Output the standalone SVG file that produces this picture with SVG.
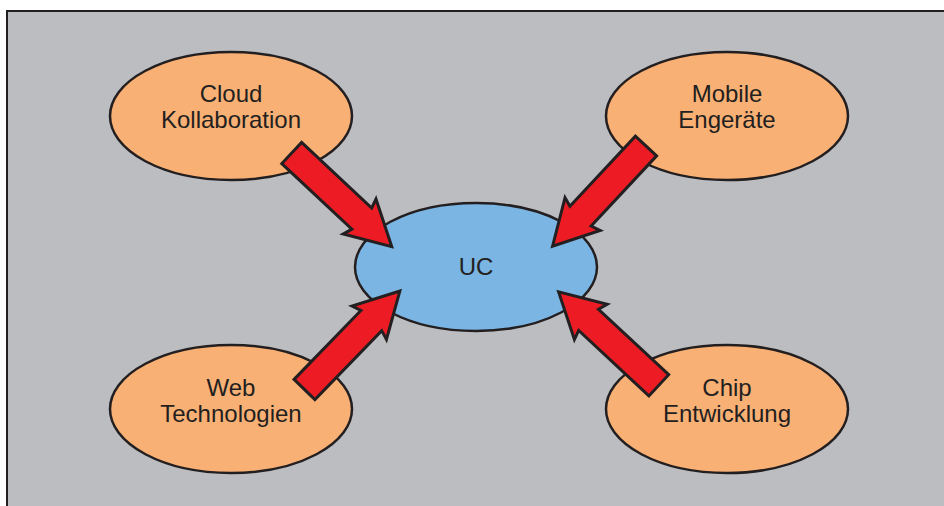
<svg xmlns="http://www.w3.org/2000/svg" width="944" height="506" viewBox="0 0 944 506">
<defs>
<style>
.node ellipse{stroke:#231f20;stroke-width:2.5}
.outer ellipse{fill:#f9b074}
.center ellipse{fill:#7ab5e3}
text{font-family:"Liberation Sans",Arial,sans-serif;font-size:24px;fill:#231f20;text-anchor:middle}
.arrow{fill:#ed1c24;stroke:#231f20;stroke-width:3;stroke-linejoin:miter}
</style>
<path id="arr" d="M0,-14.5 L96,-14.5 L93,-24 L137,0 L93,24 L96,14.5 L0,14.5 Z"/>
</defs>
<rect x="0" y="0" width="944" height="506" fill="#ffffff"/>
<rect x="7" y="11" width="960" height="520" fill="#bcbdc0" stroke="#231f20" stroke-width="2"/>
<g id="cloud" class="node outer">
<ellipse cx="231" cy="116" rx="121" ry="64"/>
<text x="231" y="102">Cloud</text>
<text x="231" y="128">Kollaboration</text>
</g>
<g id="mobile" class="node outer">
<ellipse cx="727" cy="116" rx="121" ry="64"/>
<text x="727" y="102">Mobile</text>
<text x="727" y="128">Engeräte</text>
</g>
<g id="web" class="node outer">
<ellipse cx="231" cy="409" rx="121" ry="64"/>
<text x="231" y="396">Web</text>
<text x="231" y="422">Technologien</text>
</g>
<g id="chip" class="node outer">
<ellipse cx="727" cy="409" rx="121" ry="64"/>
<text x="727" y="396">Chip</text>
<text x="727" y="422">Entwicklung</text>
</g>
<g id="uc" class="node center">
<ellipse cx="476" cy="267" rx="121" ry="64"/>
<text x="476" y="275">UC</text>
</g>
<g id="connectors">
<use href="#arr" class="arrow" transform="translate(291.7,153) rotate(43.1)"/>
<use href="#arr" class="arrow" transform="translate(646,146) rotate(133)"/>
<use href="#arr" class="arrow" transform="translate(304.5,389.5) rotate(-45.9)"/>
<use href="#arr" class="arrow" transform="translate(658.8,385.3) rotate(223)"/>
</g>
</svg>
